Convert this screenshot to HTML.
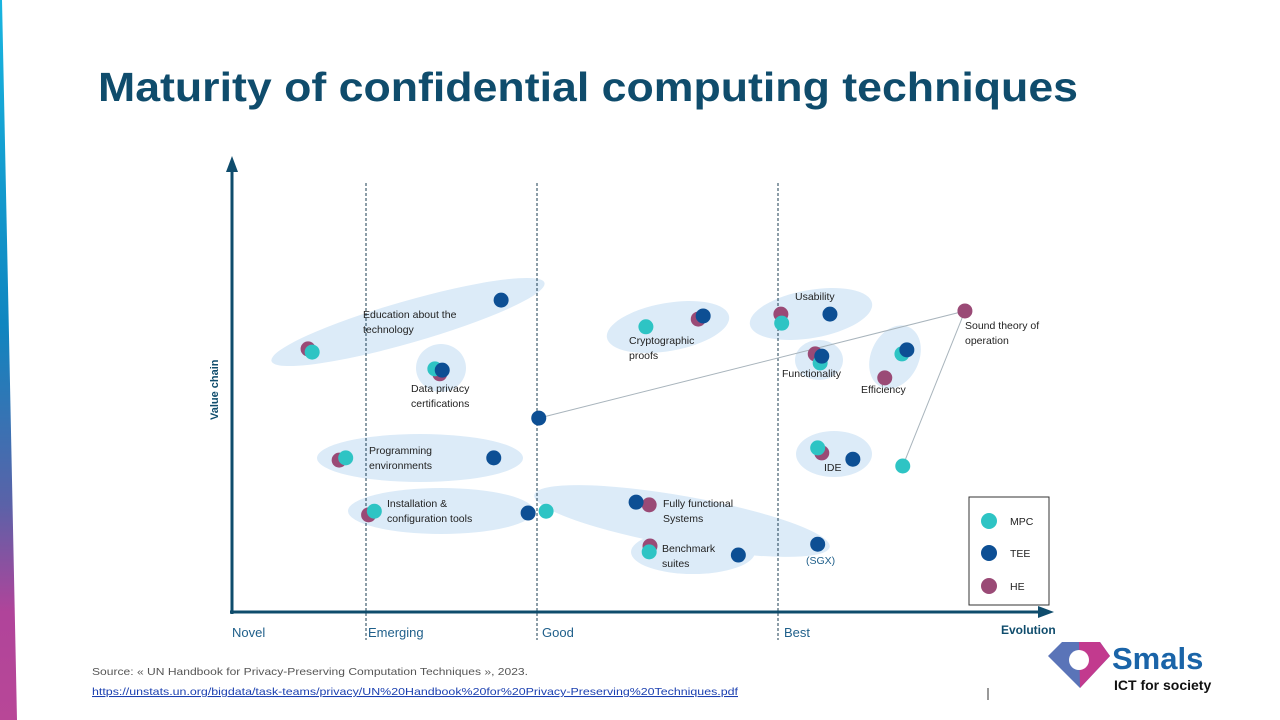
<!DOCTYPE html>
<html><head><meta charset="utf-8"><style>
body{margin:0;width:1280px;height:720px;overflow:hidden;background:#fff;font-family:"Liberation Sans",sans-serif}
svg{position:absolute;left:0;top:0}
</style></head><body>
<svg width="1280" height="720" font-family="Liberation Sans, sans-serif">
<defs><linearGradient id="lg" x1="0" y1="0" x2="0" y2="1"><stop offset="0" stop-color="#19b5e0"/><stop offset="0.45" stop-color="#0f86c0"/><stop offset="0.7" stop-color="#5a62a8"/><stop offset="0.85" stop-color="#b0449a"/><stop offset="1" stop-color="#b84797"/></linearGradient></defs>
<polygon points="0,0 2,0 17,720 0,720" fill="url(#lg)"/>
<text x="98" y="101" font-size="41" font-weight="bold" fill="#0f4c6c" textLength="980" lengthAdjust="spacingAndGlyphs">Maturity of confidential computing techniques</text>
<g id="ell" fill="#dcebf8">
<ellipse cx="408" cy="322" rx="142" ry="21" transform="rotate(-16 408 322)"/>
<ellipse cx="441" cy="368" rx="25" ry="24"/>
<ellipse cx="420" cy="458" rx="103" ry="24"/>
<ellipse cx="441" cy="511" rx="93" ry="23"/>
<ellipse cx="682" cy="521" rx="150" ry="25" transform="rotate(10 682 521)"/>
<ellipse cx="693" cy="552" rx="62" ry="22"/>
<ellipse cx="668" cy="327" rx="62" ry="24" transform="rotate(-10 668 327)"/>
<ellipse cx="811" cy="314" rx="62" ry="24" transform="rotate(-10 811 314)"/>
<ellipse cx="819" cy="360" rx="24" ry="20"/>
<ellipse cx="895" cy="357" rx="24" ry="33" transform="rotate(25 895 357)"/>
<ellipse cx="834" cy="454" rx="38" ry="23"/>
</g>
<g stroke="#1b3e52" stroke-width="1" stroke-dasharray="3,2">
<line x1="366" y1="183" x2="366" y2="640"/><line x1="537" y1="183" x2="537" y2="640"/><line x1="778" y1="183" x2="778" y2="640"/>
</g>
<g fill="#0f4c6c">
<rect x="230.5" y="170" width="3" height="444"/>
<polygon points="232,156 226,172 238,172"/>
<rect x="230" y="610.5" width="810" height="3"/>
<polygon points="1054,612 1038,606 1038,618"/>
</g>
<text transform="translate(218 420) rotate(-90)" font-size="11" font-weight="bold" fill="#0f4c6c">Value chain</text>
<text x="1001" y="634" font-size="12" font-weight="bold" fill="#0f4c6c">Evolution</text>
<g font-size="13" fill="#1f5f8a">
<text x="232" y="637">Novel</text><text x="368" y="637">Emerging</text><text x="542" y="637">Good</text><text x="784" y="637">Best</text>
</g>
<g id="links" stroke="#a8b4bc" stroke-width="1"></g>
<g id="pts"></g>
<g font-size="10.5" fill="#222">
<text x="363" y="318">Education about the</text><text x="363" y="333">technology</text>
<text x="411" y="392">Data privacy</text><text x="411" y="407">certifications</text>
<text x="369" y="454">Programming</text><text x="369" y="469">environments</text>
<text x="387" y="507">Installation &amp;</text><text x="387" y="522">configuration tools</text>
<text x="663" y="507">Fully functional</text><text x="663" y="522">Systems</text>
<text x="662" y="552">Benchmark</text><text x="662" y="567">suites</text>
<text x="629" y="344">Cryptographic</text><text x="629" y="359">proofs</text>
<text x="795" y="300">Usability</text>
<text x="782" y="377">Functionality</text>
<text x="861" y="393">Efficiency</text>
<text x="824" y="471">IDE</text>
<text x="965" y="329">Sound theory of</text><text x="965" y="344">operation</text>
<text x="806" y="564" fill="#1f5f8a">(SGX)</text>
</g>
<g>
<rect x="969" y="497" width="80" height="108" fill="#fff" stroke="#333" stroke-width="1"/>
<circle cx="989" cy="521" r="8" fill="#2ec4c4"/><text x="1010" y="525" font-size="10.5" fill="#222">MPC</text>
<circle cx="989" cy="553" r="8" fill="#0d4f94"/><text x="1010" y="557" font-size="10.5" fill="#222">TEE</text>
<circle cx="989" cy="586" r="8" fill="#9a4a76"/><text x="1010" y="590" font-size="10.5" fill="#222">HE</text>
</g>
<text x="92" y="675" font-size="10.5" fill="#555" textLength="436" lengthAdjust="spacingAndGlyphs">Source: « UN  Handbook for Privacy-Preserving Computation Techniques », 2023.</text>
<text x="92" y="695" font-size="10.5" fill="#1a3fb0" text-decoration="underline" textLength="646" lengthAdjust="spacingAndGlyphs">https://unstats.un.org/bigdata/task-teams/privacy/UN%20Handbook%20for%20Privacy-Preserving%20Techniques.pdf</text>
<line x1="988" y1="688" x2="988" y2="700" stroke="#333" stroke-width="1"/>
<g>
<polygon points="1048,656 1062,642 1100,642 1110,656 1080,688" fill="#5a74b8"/>
<polygon points="1079,642 1100,642 1110,656 1080,688" fill="#c23a8e"/>
<circle cx="1079" cy="660" r="10" fill="#fff"/>
<text x="1112" y="669" font-size="31" font-weight="bold" fill="#1a64a8">Smals</text>
<text x="1114" y="690" font-size="14" font-weight="bold" fill="#111">ICT for society</text>
</g>
<script>
const mpcX=[9.8,24.8,13.9,17.4,38.4,50.6,67.2,71.9,71.6,51.0,82.0,81.9];
const mpcY=[57.5,53.8,34.1,22.3,22.3,63.1,63.9,55.1,36.3,13.3,32.3,57.1];
const heX=[9.3,25.4,13.1,16.7,51.0,57.0,67.1,71.3,72.1,51.1,79.8,89.6];
const heY=[58.2,52.7,33.6,21.5,23.7,64.8,65.9,57.1,35.2,14.6,51.8,66.6];
const teeX=[32.9,25.7,32.0,36.2,37.5,49.4,57.6,73.1,72.1,75.9,61.9,71.6,82.5];
const teeY=[69.0,53.5,34.1,21.9,42.9,24.3,65.5,65.9,56.6,33.8,12.6,15.0,58.0];
const sx=v=>232+v*8.18, sy=v=>612-v*4.52;
const NS='http://www.w3.org/2000/svg';
const links=document.getElementById('links');
function ln(x1,y1,x2,y2){const l=document.createElementNS(NS,'line');


l.setAttribute('x1',sx(x1));l.setAttribute('y1',sy(y1));l.setAttribute('x2',sx(x2));l.setAttribute('y2',sy(y2));links.appendChild(l);}
ln(teeX[4],teeY[4],heX[11],heY[11]);
ln(heX[11],heY[11],mpcX[10],mpcY[10]);
const pts=document.getElementById('pts');
function draw(xs,ys,col,name){xs.forEach((x,i)=>{const c=document.createElementNS(NS,'circle');


c.setAttribute('cx',sx(x));c.setAttribute('cy',sy(ys[i]));c.setAttribute('r',7.5);c.setAttribute('fill',col);pts.appendChild(c);});}
draw(heX,heY,'#9a4a76','he-point');
draw(mpcX,mpcY,'#2ec4c4','mpc-point');
draw(teeX,teeY,'#0d4f94','tee-point');
</script>
</svg>
</body></html>
